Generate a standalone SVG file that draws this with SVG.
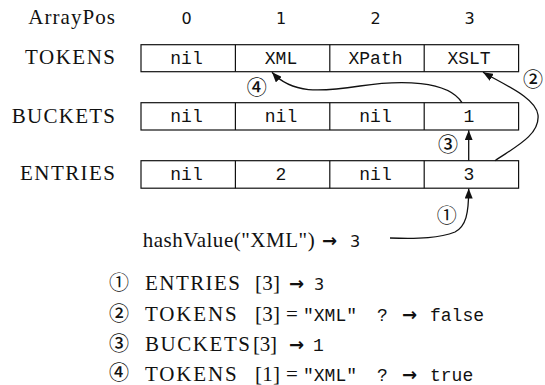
<svg xmlns="http://www.w3.org/2000/svg" width="545" height="385" viewBox="0 0 545 385">
  <defs>
    <style>
      .lbl  { font-family: "Liberation Serif", "Times New Roman", serif; font-size: 21px; fill: #111; }
      .mono { font-family: "Liberation Mono", "Courier New", monospace; font-size: 18px; fill: #111; }
      .sans { font-family: "DejaVu Sans", "Liberation Sans", sans-serif; font-size: 16px; fill: #111; }
      .arw  { font-family: "DejaVu Sans", sans-serif; font-size: 18px; font-weight: bold; fill: #111; }
      .circ { font-family: "Noto Sans CJK SC", "DejaVu Sans", sans-serif; font-size: 20px; font-weight: 500; fill: #111; text-anchor: middle; }
      .thin { font-weight: normal; }
      .cell { fill: #fff; stroke: #111; stroke-width: 1.2; }
      .mid  { text-anchor: middle; }
      .end  { text-anchor: end; }
      .conn { fill: none; stroke: #111; stroke-width: 1.3; }
    </style>
    <marker id="head" viewBox="0 0 10 8" refX="10" refY="4" markerWidth="10" markerHeight="8" markerUnits="userSpaceOnUse" orient="auto">
      <path d="M0,0 L10,4 L0,8 Z" fill="#111"/>
    </marker>
  </defs>

  <rect width="545" height="385" fill="#fff"/>

  <!-- column header -->
  <g id="header">
    <text class="lbl end" x="115" y="24" textLength="86.7">ArrayPos</text>
    <text class="sans mid" x="186.5" y="24">0</text>
    <text class="sans mid" x="281" y="24">1</text>
    <text class="sans mid" x="375.5" y="24">2</text>
    <text class="sans mid" x="469.5" y="24">3</text>
  </g>

  <!-- TOKENS array -->
  <g id="tokens">
    <text class="lbl end" x="115" y="64" textLength="90">TOKENS</text>
    <rect class="cell" x="141" y="44.7" width="377.6" height="27"/>
    <line class="cell" x1="235.4" y1="44.7" x2="235.4" y2="71.7"/>
    <line class="cell" x1="329.8" y1="44.7" x2="329.8" y2="71.7"/>
    <line class="cell" x1="424.2" y1="44.7" x2="424.2" y2="71.7"/>
    <text class="mono mid" x="186.5" y="63.5">nil</text>
    <text class="mono mid" x="281" y="63.5">XML</text>
    <text class="mono mid" x="375.5" y="63.5">XPath</text>
    <text class="mono mid" x="469" y="63.5">XSLT</text>
  </g>

  <!-- BUCKETS array -->
  <g id="buckets">
    <text class="lbl end" x="115" y="122.5" textLength="103.3">BUCKETS</text>
    <rect class="cell" x="141" y="102.7" width="377.6" height="27.3"/>
    <line class="cell" x1="235.4" y1="102.7" x2="235.4" y2="130"/>
    <line class="cell" x1="329.8" y1="102.7" x2="329.8" y2="130"/>
    <line class="cell" x1="424.2" y1="102.7" x2="424.2" y2="130"/>
    <text class="mono mid" x="186.5" y="121.5">nil</text>
    <text class="mono mid" x="281" y="121.5">nil</text>
    <text class="mono mid" x="375.5" y="121.5">nil</text>
    <text class="mono mid" x="469" y="121.5">1</text>
  </g>

  <!-- ENTRIES array -->
  <g id="entries">
    <text class="lbl end" x="115" y="180" textLength="95">ENTRIES</text>
    <rect class="cell" x="141" y="160.7" width="377.6" height="27.5"/>
    <line class="cell" x1="235.4" y1="160.7" x2="235.4" y2="188.2"/>
    <line class="cell" x1="329.8" y1="160.7" x2="329.8" y2="188.2"/>
    <line class="cell" x1="424.2" y1="160.7" x2="424.2" y2="188.2"/>
    <text class="mono mid" x="186.5" y="179.5">nil</text>
    <text class="mono mid" x="281" y="179.5">2</text>
    <text class="mono mid" x="375.5" y="179.5">nil</text>
    <text class="mono mid" x="469" y="179.5">3</text>
  </g>

  <!-- hash input -->
  <g id="hash">
    <text class="lbl" x="142.7" y="246.7" textLength="172">hashValue("XML")</text>
    <text class="arw" x="322" y="246.7">→</text>
    <text class="sans" x="350" y="246.7">3</text>
  </g>

  <!-- lookup steps -->
  <g id="connectors">
    <path class="conn" marker-end="url(#head)" d="M390,238 C420,239 440,238 455,232 C466,226 468.7,214 468.7,188.5"/>
    <path class="conn" marker-end="url(#head)" d="M468.7,160.7 L468.7,130.2"/>
    <path class="conn" marker-end="url(#head)" d="M495,160.7 C515,147 540,135 538,115 C536,98 505,85 483,72.3"/>
    <path class="conn" marker-end="url(#head)" d="M462,102.7 C448,80 400,80 360,86 C320,92 292,94 272,72.3"/>
  </g>
  <g id="step-labels">
    <text class="circ thin" x="446.7" y="223">①</text>
    <text class="circ" x="448" y="152">③</text>
    <text class="circ" x="533" y="87">②</text>
    <text class="circ" x="256.7" y="94.7">④</text>
  </g>

  <!-- legend of the steps -->
  <g id="legend">
    <text class="circ thin" x="119" y="290">①</text>
    <text class="lbl" x="145" y="290" textLength="95">ENTRIES</text>
    <text class="lbl" x="255" y="290" textLength="25">[3]</text>
    <text class="arw" x="289" y="290">→</text>
    <text class="sans" x="314" y="290">3</text>

    <text class="circ" x="119" y="320.5">②</text>
    <text class="lbl" x="145" y="320.5" textLength="91.7">TOKENS</text>
    <text class="lbl" x="255" y="320.5" textLength="25">[3]</text>
    <text class="lbl" x="286" y="320.5">=</text>
    <text class="mono" x="303" y="320.5">"XML"</text>
    <text class="mono" x="377" y="320.5">?</text>
    <text class="arw" x="402" y="320.5">→</text>
    <text class="mono" x="430" y="320.5">false</text>

    <text class="circ" x="119" y="351">③</text>
    <text class="lbl" x="145" y="351" textLength="105">BUCKETS</text>
    <text class="lbl" x="253" y="351" textLength="24">[3]</text>
    <text class="arw" x="289" y="351">→</text>
    <text class="mono" x="313" y="351">1</text>

    <text class="circ" x="119" y="380" font-size="19">④</text>
    <text class="lbl" x="145" y="381" textLength="91.7">TOKENS</text>
    <text class="lbl" x="255" y="381" textLength="25">[1]</text>
    <text class="lbl" x="286" y="381">=</text>
    <text class="mono" x="303" y="381">"XML"</text>
    <text class="mono" x="377" y="381">?</text>
    <text class="arw" x="402" y="381">→</text>
    <text class="mono" x="430" y="381">true</text>
  </g>
</svg>
